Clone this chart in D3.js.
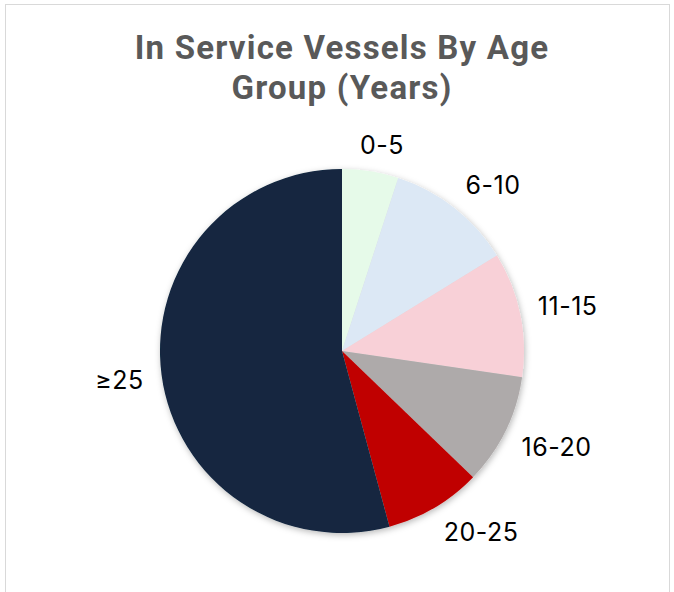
<!DOCTYPE html>
<html>
<head>
<meta charset="utf-8">
<script src="https://cdn.jsdelivr.net/npm/d3@7"></script>
<style>
  html, body { margin: 0; padding: 0; background: #ffffff; }
  svg { display: block; }
</style>
</head>
<body>
<svg id="chart" width="674" height="592"></svg>
<script>
// Age groups of in-service vessels, share of fleet (%)
const categories = ["0-5", "6-10", "11-15", "16-20", "20-25", "\u226525"];
const shares = [5.0, 11.2, 11.1, 9.9, 8.6, 54.2];
const sliceColors = ["#E6FAE9", "#DCE8F5", "#F8D0D7", "#AEAAAA", "#C00000", "#12263F"];
const titleLines = ["In Service Vessels By Age", "Group (Years)"];

const W = 674, H = 592;
const cx = 342, cy = 351, radius = 182;

const svg = d3.select("#chart");

// chart area frame
svg.append("rect")
  .attr("x", 5.5).attr("y", 4.5)
  .attr("width", 664).attr("height", 600)
  .attr("fill", "#ffffff")
  .attr("stroke", "#D9D9D9").attr("stroke-width", 1);

// soft shadow under the pie
const defs = svg.append("defs");
const f = defs.append("filter").attr("id", "pieShadow")
  .attr("x", "-20%").attr("y", "-20%").attr("width", "140%").attr("height", "140%");
f.append("feDropShadow")
  .attr("dx", 1).attr("dy", 2).attr("stdDeviation", 3)
  .attr("flood-color", "#000000").attr("flood-opacity", 0.28);

// title
svg.append("text")
  .attr("x", 342).attr("y", 59)
  .attr("text-anchor", "middle")
  .attr("font-family", "Roboto, 'Liberation Sans', sans-serif")
  .attr("font-weight", 700)
  .attr("font-size", 33)
  .attr("letter-spacing", 1.2)
  .attr("fill", "#595959")
  .selectAll("tspan").data(titleLines).join("tspan")
  .attr("x", 342)
  .attr("dy", (d, i) => i === 0 ? 0 : 40)
  .text(d => d);

const data = categories.map((c, i) => ({ label: c, value: shares[i], color: sliceColors[i] }));

const pie = d3.pie().value(d => d.value).sort(null)
  .startAngle(0).endAngle(2 * Math.PI);
const arcs = pie(data);
const arc = d3.arc().innerRadius(0).outerRadius(radius);

const g = svg.append("g").attr("transform", `translate(${cx},${cy})`);

g.append("g").attr("filter", "url(#pieShadow)")
  .selectAll("path").data(arcs).join("path")
  .attr("d", arc)
  .attr("fill", d => d.data.color);

// outside-end labels: nearest side of the label box sits on a ring outside the pie
const labelR = 200;
const fontSize = 25;
const capH = fontSize * 0.72;
const halfBox = 8.5;
const clamp = v => Math.max(-1, Math.min(1, v));
const labels = g.append("g")
  .attr("font-family", "Inter, 'Noto Sans', sans-serif")
  .attr("font-size", fontSize)
  .attr("letter-spacing", 0.5)
  .attr("fill", "#000000");

labels.selectAll("text").data(arcs).join("text")
  .attr("text-anchor", "middle")
  .text(d => d.data.label)
  .each(function (d) {
    const a = (d.startAngle + d.endAngle) / 2;
    const sx = Math.sin(a), sy = -Math.cos(a);
    const w = this.getComputedTextLength();
    const px = labelR * sx + (w / 2) * clamp(sx * 2.5);
    const py = labelR * sy + halfBox * clamp(sy * 2.5);
    d3.select(this).attr("x", px).attr("y", py + capH / 2);
  });
</script>
</body>
</html>
